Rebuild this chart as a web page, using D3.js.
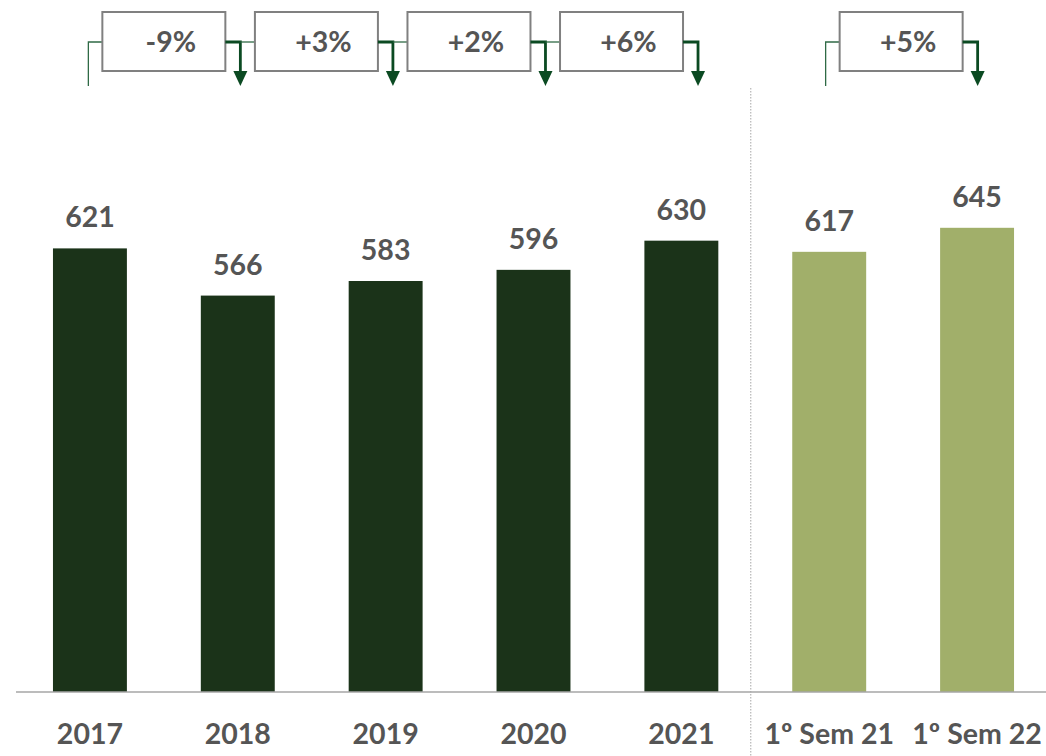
<!DOCTYPE html>
<html>
<head>
<meta charset="utf-8">
<script src="https://cdn.jsdelivr.net/npm/d3@7"></script>
<style>
  html, body { margin: 0; padding: 0; background: #fff; }
  svg { display: block; }
  text { font-family: Lato, "Open Sans", "Liberation Sans", sans-serif; font-weight: 700; fill: #555555; }
</style>
</head>
<body>
<svg id="chart" width="1046" height="756"></svg>
<script>
const categories = ["2017", "2018", "2019", "2020", "2021", "1º Sem 21", "1º Sem 22"];
const values = [621, 566, 583, 596, 630, 617, 645];
const periodType = ["year", "year", "year", "year", "year", "semester", "semester"];
const growthLabels = ["-9%", "+3%", "+2%", "+6%", "+5%"];
const growthFrom = ["2017", "2018", "2019", "2020", "1º Sem 21"];
const growthTo = ["2018", "2019", "2020", "2021", "1º Sem 22"];
const growthGroup = [0, 0, 0, 0, 1];

const svg = d3.select("#chart");
const W = 1046, H = 756;
const baseY = 692;
const FONT = "Lato, 'Open Sans', 'Liberation Sans', sans-serif";
const FS = 28.5;

const x = d3.scaleBand().domain(categories).range([16, 1051]).paddingInner(0.5).paddingOuter(0.25);
const y = d3.scaleLinear().domain([104, 900]).range([baseY, 9]);
const color = d3.scaleOrdinal().domain(["year", "semester"]).range(["#1b3319", "#a1af6a"]);

const data = categories.map((c, i) => ({ cat: c, value: values[i], type: periodType[i] }));

// separator
const sepX = (x("2021") + x.bandwidth() + x("1º Sem 21")) / 2 - 4.5;
svg.append("line")
  .attr("x1", sepX).attr("x2", sepX).attr("y1", 88).attr("y2", H)
  .attr("stroke", "#a6a6a6").attr("stroke-width", 1).attr("stroke-dasharray", "1.5,1.5");

// bars
svg.selectAll("rect.bar").data(data).enter().append("rect")
  .attr("class", "bar")
  .attr("x", d => x(d.cat))
  .attr("width", x.bandwidth())
  .attr("y", d => y(d.value))
  .attr("height", d => baseY - y(d.value))
  .attr("fill", d => color(d.type));

// value labels
svg.selectAll("text.val").data(data).enter().append("text")
  .attr("class", "val")
  .attr("x", d => x(d.cat) + x.bandwidth() / 2)
  .attr("y", d => y(d.value) - 21)
  .attr("text-anchor", "middle")
  .attr("font-size", FS)
  .text(d => d.value);

// axis
const axis = svg.append("g").attr("transform", `translate(0,${baseY})`)
  .call(d3.axisBottom(x).tickSize(0).tickPadding(0));
axis.select(".domain").remove();
axis.selectAll("text")
  .attr("y", 52)
  .attr("dy", 0)
  .attr("font-size", FS)
  .style("font-family", FONT)
  .style("font-weight", 700)
  .attr("fill", "#555555");
svg.append("line")
  .attr("x1", 16).attr("x2", W).attr("y1", baseY).attr("y2", baseY)
  .attr("stroke", "#a6a6a6").attr("stroke-width", 1.6);

// growth annotations
const boxW = 123, boxH = 59, boxTop = 12, midY = 42, tipY = 86;
const arrowColor = "#0b4a22";
const thinColor = "#2f6a45";
const groupIndex = {};
let prevArrowX = null, prevGroup = null;
growthLabels.forEach((lab, i) => {
  const g = growthGroup[i];
  const k = groupIndex[g] || 0;
  groupIndex[g] = k + 1;
  const mid = (x(growthFrom[i]) + x(growthTo[i]) + x.bandwidth()) / 2;
  const cx = mid + k * 4.7 - (g === 1 ? 2 : 0);
  const left = cx - boxW / 2, right = cx + boxW / 2;
  const arrowX = right + 15;

  // left connector
  if (prevGroup !== g) {
    svg.append("path")
      .attr("d", `M${left},${midY}H${left - 14}V${tipY}`)
      .attr("fill", "none").attr("stroke", thinColor).attr("stroke-width", 1.3);
  } else {
    svg.append("line")
      .attr("x1", prevArrowX).attr("x2", left).attr("y1", midY).attr("y2", midY)
      .attr("stroke", thinColor).attr("stroke-width", 1.3);
  }

  // box
  svg.append("rect")
    .attr("x", left).attr("y", boxTop).attr("width", boxW).attr("height", boxH)
    .attr("fill", "#fff").attr("stroke", "#808080").attr("stroke-width", 2);
  svg.append("text")
    .attr("x", cx + 7).attr("y", 52)
    .attr("text-anchor", "middle").attr("font-size", FS)
    .text(lab);

  // right arrow
  svg.append("path")
    .attr("d", `M${right},${midY}H${arrowX}V${tipY - 14}`)
    .attr("fill", "none").attr("stroke", arrowColor).attr("stroke-width", 2.8);
  svg.append("path")
    .attr("d", `M${arrowX - 7},${tipY - 15}L${arrowX + 7},${tipY - 15}L${arrowX},${tipY}Z`)
    .attr("fill", arrowColor);

  prevArrowX = arrowX;
  prevGroup = g;
});
</script>
</body>
</html>
